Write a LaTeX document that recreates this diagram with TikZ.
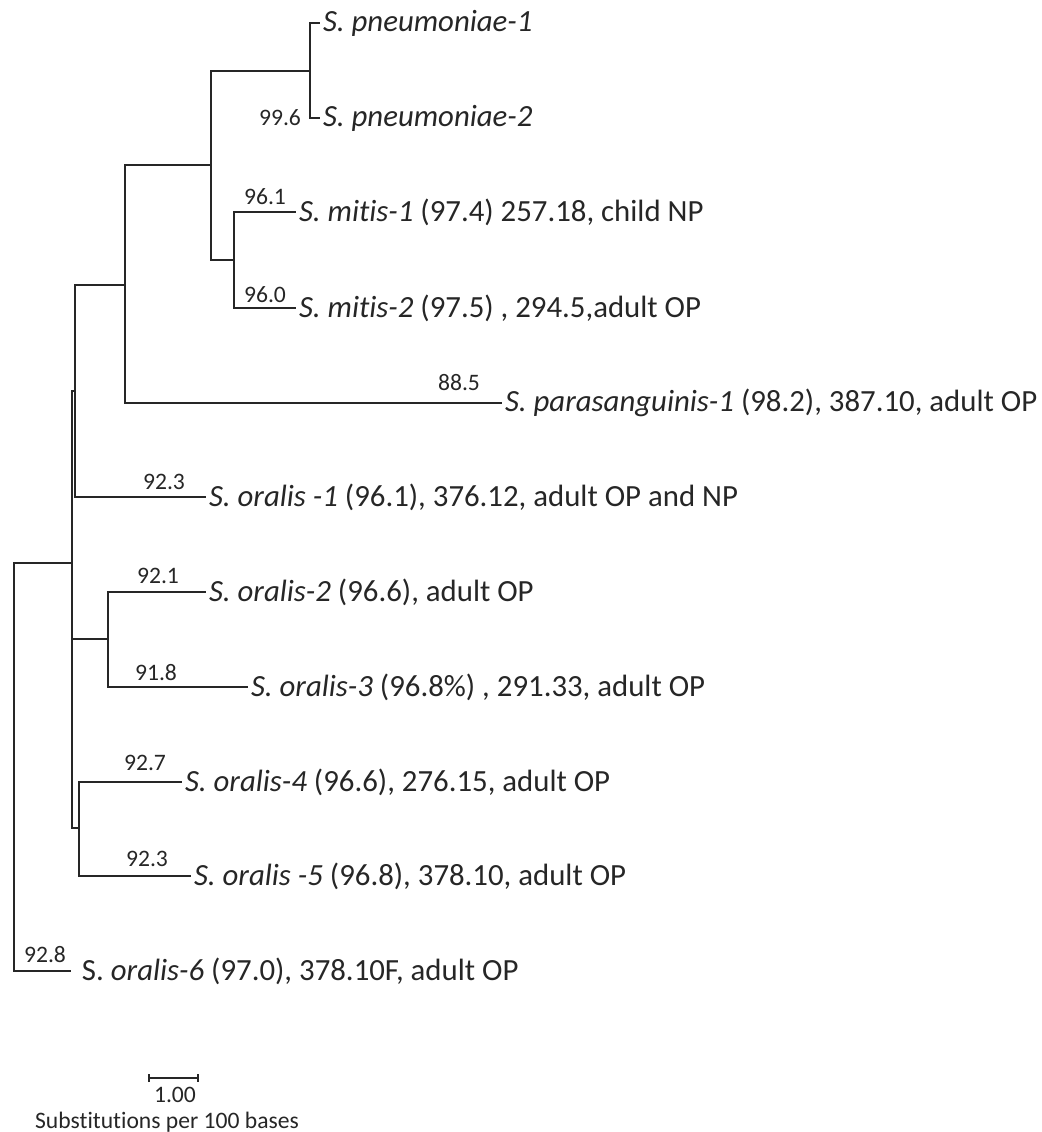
\documentclass[tikz,border=0pt]{standalone}
\usepackage{fontspec}
\setmainfont{Carlito}[Ligatures=CommonOff]
\usetikzlibrary{arrows.meta}

\begin{document}
\begin{tikzpicture}[x=0.5pt, y=-0.5pt, line width=1pt, color=black!85,
    leaf/.style = {anchor=west, inner sep=1pt, font=\fontsize{15.4}{17}\selectfont},
    boot/.style = {inner sep=0pt, font=\fontsize{11.8}{13}\selectfont}]
      \useasboundingbox (0,0) rectangle (1041,1132);
      % internal nodes of the tree
      \coordinate (root) at (14,767);
      \coordinate (n6) at (72,563);
      \coordinate (n5) at (75,391);
      \coordinate (n4) at (125,285);
      \coordinate (n3) at (211,165);
      \coordinate (n1) at (310,71);
      \coordinate (n2) at (234,260);
      \coordinate (n7) at (108,639);
      \coordinate (n8) at (79,828);

      % leaves
      \node[leaf] (pn1) at (320,23) {\textit{S. pneumoniae-1}};
      \node[leaf] (pn2) at (320,118) {\textit{S. pneumoniae-2}};
      \node[leaf] (mi1) at (296,212) {\textit{S. mitis-1} (97.4) 257.18, child NP};
      \node[leaf] (mi2) at (296,308) {\textit{S. mitis-2} (97.5) , 294.5,adult OP};
      \node[leaf] (pa1) at (502,403) {\textit{S. parasanguinis-1} (98.2), 387.10, adult OP};
      \node[leaf] (or1) at (206,497) {\textit{S. oralis -1} (96.1), 376.12, adult OP and NP};
      \node[leaf] (or2) at (206,592) {\textit{S. oralis-2} (96.6), adult OP};
      \node[leaf] (or3) at (248,687) {\textit{S. oralis-3} (96.8\%) , 291.33, adult OP};
      \node[leaf] (or4) at (182,782) {\textit{S. oralis-4} (96.6), 276.15, adult OP};
      \node[leaf] (or5) at (191,876) {\textit{S. oralis -5} (96.8), 378.10, adult OP};
      \node[leaf, inner xsep=5pt] (or6) at (71,971) {S. \textit{oralis-6} (97.0), 378.10F,  adult OP};

      \foreach \a/\b in {root/n6, root/or6.west, n6/n5, n6/n7, n6/n8,
                         n5/n4, n5/or1.west, n4/n3, n4/pa1.west, n3/n1, n3/n2,
                         n1/pn1.west, n1/pn2.west, n2/mi1.west, n2/mi2.west,
                         n7/or2.west, n7/or3.west, n8/or4.west, n8/or5.west}
      \draw (\a) |- (\b);

      % bootstrap values
      \node[boot] (bpn) at (280,118) {99.6};
      \node[boot] (bmi1) at (265,197) {96.1};
      \node[boot] (bmi2) at (265,295) {96.0};
      \node[boot] (bpa) at (459,383) {88.5};
      \node[boot] (bor1) at (164,482) {92.3};
      \node[boot] (bor2) at (158,576) {92.1};
      \node[boot] (bor3) at (156,673) {91.8};
      \node[boot] (bor4) at (145,763) {92.7};
      \node[boot] (bor5) at (147,859) {92.3};
      \node[boot] (bor6) at (45,955) {92.8};

      % scale bar
      \coordinate (sb1) at (148,1078);
      \coordinate (sb2) at (199,1078);
      \draw[{Bar[width=4pt]}-{Bar[width=4pt]}] (sb1) -- (sb2);
      \node[boot] (sbval) at (175,1095) {1.00};
      \node[boot] (sbtxt) at (167,1122) {Substitutions per 100 bases};
    \end{tikzpicture}
\end{document}
